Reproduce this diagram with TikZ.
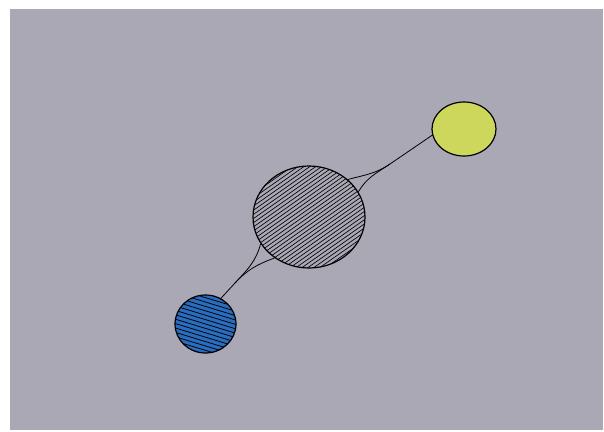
\documentclass[tikz,border=0pt]{standalone}
\usetikzlibrary{shapes.geometric}
\definecolor{paper}{RGB}{170,168,181}
\definecolor{lime}{RGB}{205,215,92}
\definecolor{ink}{RGB}{42,108,190}

\tikzset{
  ball/.style={ellipse, draw=black, line width=1.2pt, inner sep=0pt},
  strand/.style={black, line width=0.8pt},
}

\begin{document}
\begin{tikzpicture}[x=1pt,y=-1pt]
    % --- 1. paper and margins ---
    \useasboundingbox (0,0) rectangle (604,431);
    \fill[white] (0,0) rectangle (604,431);
    \fill[paper] (10,9) rectangle (603,430);

    \def\gapC{3.4}
    \def\gapB{4.2}

    % --- 2. the three balls ---
    \node[ball, minimum width=112pt, minimum height=102pt,
      path picture={
        \foreach \k in {-18,...,18}
          \draw[line width=0.65pt, shift={(path picture bounding box.center)}]
            ({-80*cos(35)+\k*\gapC*sin(35)},{80*sin(35)+\k*\gapC*cos(35)})
            -- ({80*cos(35)+\k*\gapC*sin(35)},{-80*sin(35)+\k*\gapC*cos(35)});
      }] (core) at (309,217) {};
    \node[ball, fill=ink, minimum width=61pt, minimum height=58pt,
      path picture={
        \foreach \k in {-9,...,9}
          \draw[line width=0.75pt, shift={(path picture bounding box.center)}]
            ({-50*cos(17)-\k*\gapB*sin(17)},{-50*sin(17)+\k*\gapB*cos(17)})
            -- ({50*cos(17)-\k*\gapB*sin(17)},{50*sin(17)+\k*\gapB*cos(17)});
      }] (berry) at (205.5,324) {};
    \node[ball, fill=lime, minimum width=64pt, minimum height=54pt] (fruit) at (464,129) {};

    % --- 3. knots where the strands meet ---
    \coordinate (knotA) at (390,164);
    \coordinate (knotB) at (235,283);

    % --- 4. strands ---
    \draw[strand] (core.44) to[out=15,in=214] (knotA) -- (fruit.191);
    \draw[strand] (core.27) to[out=60,in=214] (knotA);
    \draw[strand] (core.209) to[out=255,in=47] (knotB) -- (berry.59);
    \draw[strand] (core.230) to[out=200,in=47] (knotB);
\end{tikzpicture}
\end{document}
